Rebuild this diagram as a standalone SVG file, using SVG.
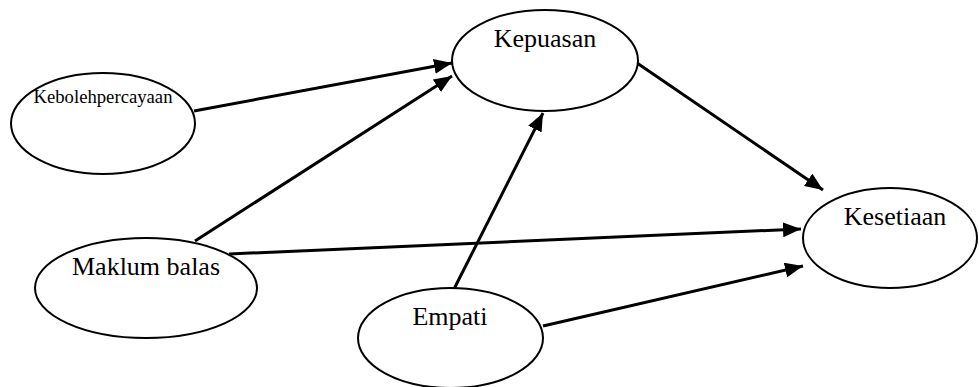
<svg xmlns="http://www.w3.org/2000/svg" width="979" height="387" viewBox="0 0 979 387" font-family="'Liberation Serif', 'Times New Roman', Times, serif">
  <defs>
    <marker id="arrow" markerUnits="userSpaceOnUse" markerWidth="19" markerHeight="15" refX="18" refY="7.5" orient="auto">
      <path d="M0,0 L18,7.5 L0,15 Z" fill="#000"/>
    </marker>
  </defs>
  <style>
    .node ellipse { fill: #fff; stroke: #000; stroke-width: 2; }
    .node text { font-family: 'Liberation Serif', 'Times New Roman', Times, serif; font-size: 26px; fill: #000; text-anchor: middle; }
    .edges line { stroke: #000; stroke-width: 3; marker-end: url(#arrow); }
  </style>
  <rect width="979" height="387" fill="#fff"/>

  <g class="edges">
    <line x1="194" y1="111" x2="452" y2="63"/>
    <line x1="195" y1="241" x2="452" y2="76"/>
    <line x1="229" y1="254" x2="801" y2="229"/>
    <line x1="453" y1="291" x2="543" y2="113"/>
    <line x1="543" y1="326" x2="803" y2="266"/>
    <line x1="637" y1="63" x2="823" y2="190"/>
  </g>

  <g id="kebolehpercayaan" class="node">
    <ellipse cx="103" cy="123.5" rx="92" ry="50.5"/>
    <text x="103" y="103" font-family="'Liberation Serif', serif" style="font-size:18.7px">Kebolehpercayaan</text>
  </g>

  <g id="kepuasan" class="node">
    <ellipse cx="545" cy="60.5" rx="93" ry="50.5"/>
    <text x="545" y="47" font-family="'Liberation Serif', serif">Kepuasan</text>
  </g>

  <g id="maklum-balas" class="node">
    <ellipse cx="146" cy="288" rx="111" ry="50"/>
    <text x="146" y="275" font-family="'Liberation Serif', serif">Maklum balas</text>
  </g>

  <g id="empati" class="node">
    <ellipse cx="450.5" cy="338" rx="92.5" ry="50"/>
    <text x="450" y="325" font-family="'Liberation Serif', serif">Empati</text>
  </g>

  <g id="kesetiaan" class="node">
    <ellipse cx="890" cy="238" rx="87" ry="50"/>
    <text x="895" y="225" font-family="'Liberation Serif', serif">Kesetiaan</text>
  </g>
</svg>
